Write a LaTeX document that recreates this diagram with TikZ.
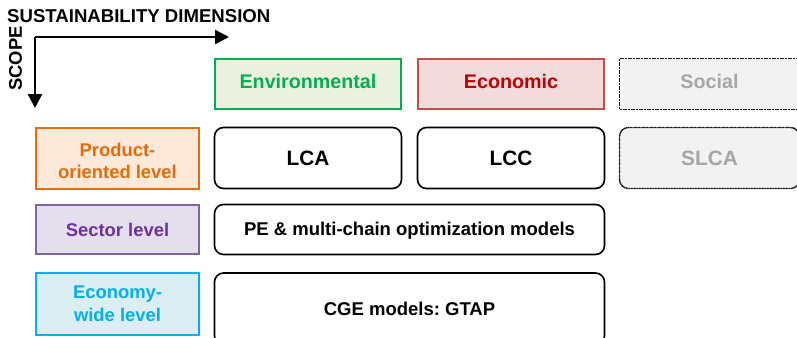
\documentclass[tikz,border=0pt]{standalone}
\usepackage{fontspec}
\setmainfont{Liberation Sans}
\usetikzlibrary{arrows.meta}
\frenchspacing

\definecolor{envline}{HTML}{00B050}
\definecolor{envfill}{HTML}{EBF1DE}
\definecolor{ecoline}{HTML}{C0504D}
\definecolor{ecofill}{HTML}{F2DCDB}
\definecolor{ecotext}{HTML}{C00000}
\definecolor{socline}{HTML}{1A1A1A}
\definecolor{socfill}{HTML}{F2F2F2}
\definecolor{soctext}{HTML}{A6A6A6}
\definecolor{prodline}{HTML}{E46C0A}
\definecolor{prodfill}{HTML}{FDE9D9}
\definecolor{secline}{HTML}{8064A2}
\definecolor{secfill}{HTML}{E4DFEC}
\definecolor{sectext}{HTML}{7030A0}
\definecolor{wideline}{HTML}{00B0F0}
\definecolor{widefill}{HTML}{DAEEF3}

\tikzset{
  labelfont/.style={font=\fontsize{18.4}{22.5}\selectfont\bfseries},
  headfont/.style={font=\fontsize{19.7}{23}\selectfont\bfseries,
    text height=14.4pt, text depth=5.8pt},
  toolfont/.style={font=\fontsize{20.8}{24}\selectfont\bfseries},
  modelfont/.style={font=\fontsize{18.5}{22}\selectfont\bfseries},
  plainbox/.style={draw, line width=1.6pt, inner sep=0pt, outer sep=0pt, align=center},
  toolbox/.style={plainbox, draw=black, fill=white, rounded corners=9pt, text=black},
  dottedbox/.style={draw=socline, fill=socfill, line width=1.4pt,
    dash pattern=on 1.2pt off 0.4pt, inner sep=0pt, outer sep=0pt,
    text=soctext, align=center},
  axis/.style={line width=2.4pt, -{Triangle[length=14pt,width=14pt]}}
}

\begin{document}
\begin{tikzpicture}[x=1pt,y=-1pt]
\useasboundingbox (0,0) rectangle (797,337);
\clip (0,0) rectangle (797,337);

% axes
\coordinate (origin) at (35,37);
\coordinate (xend) at (229,37);
\coordinate (yend) at (35,108);
\draw[axis] (origin) -- (xend);
\draw[axis] (origin) -- (yend);
\node[anchor=west, inner sep=0pt, font=\fontsize{18.6}{20}\selectfont\bfseries]
  (dimtitle) at (7,16) {SUSTAINABILITY DIMENSION};
\node[rotate=90, inner sep=0pt, font=\fontsize{18.4}{20}\selectfont\bfseries]
  (scopetitle) at (15.5,58.5) {SCOPE};

% sustainability dimensions
\node[plainbox, draw=envline, fill=envfill, text=envline, headfont,
  minimum width=186pt, minimum height=50pt] (env) at (308,84) {Environmental};
\node[plainbox, draw=ecoline, fill=ecofill, text=ecotext, headfont,
  minimum width=186pt, minimum height=50pt] (eco) at (511,84) {Economic};
\node[dottedbox, headfont, minimum width=180pt, minimum height=51pt]
  (soc) at (709.5,84) {Social};

% scopes
\node[plainbox, draw=prodline, fill=prodfill, text=prodline, labelfont,
  minimum width=163pt, minimum height=61pt] (prod) at (117.5,158.5)
  {\rule{0pt}{18.4pt}Product-\\oriented level};
\node[plainbox, draw=secline, fill=secfill, text=sectext, labelfont,
  minimum width=163pt, minimum height=49pt] (sec) at (117.5,229.5) {Sector level};
\node[plainbox, draw=wideline, fill=widefill, text=wideline, labelfont,
  minimum width=163pt, minimum height=62pt] (wide) at (117.5,304)
  {Economy-\\wide level};

% tools and models
\node[toolbox, toolfont, minimum width=187pt, minimum height=61pt] (lca) at (308,158) {LCA};
\node[toolbox, toolfont, minimum width=187pt, minimum height=61pt] (lcc) at (511,158) {LCC};
\node[dottedbox, toolfont, rounded corners=9pt, minimum width=180pt, minimum height=61pt]
  (slca) at (709.5,158) {SLCA};
\node[toolbox, modelfont, minimum width=390pt, minimum height=50pt,
  text depth=2pt] (pe) at (409.5,229.5)
  {PE \& multi-chain optimization models};
\node[toolbox, modelfont, minimum width=390pt, minimum height=72pt] (cge) at (409.5,309)
  {CGE models: GTAP};
\end{tikzpicture}
\end{document}
